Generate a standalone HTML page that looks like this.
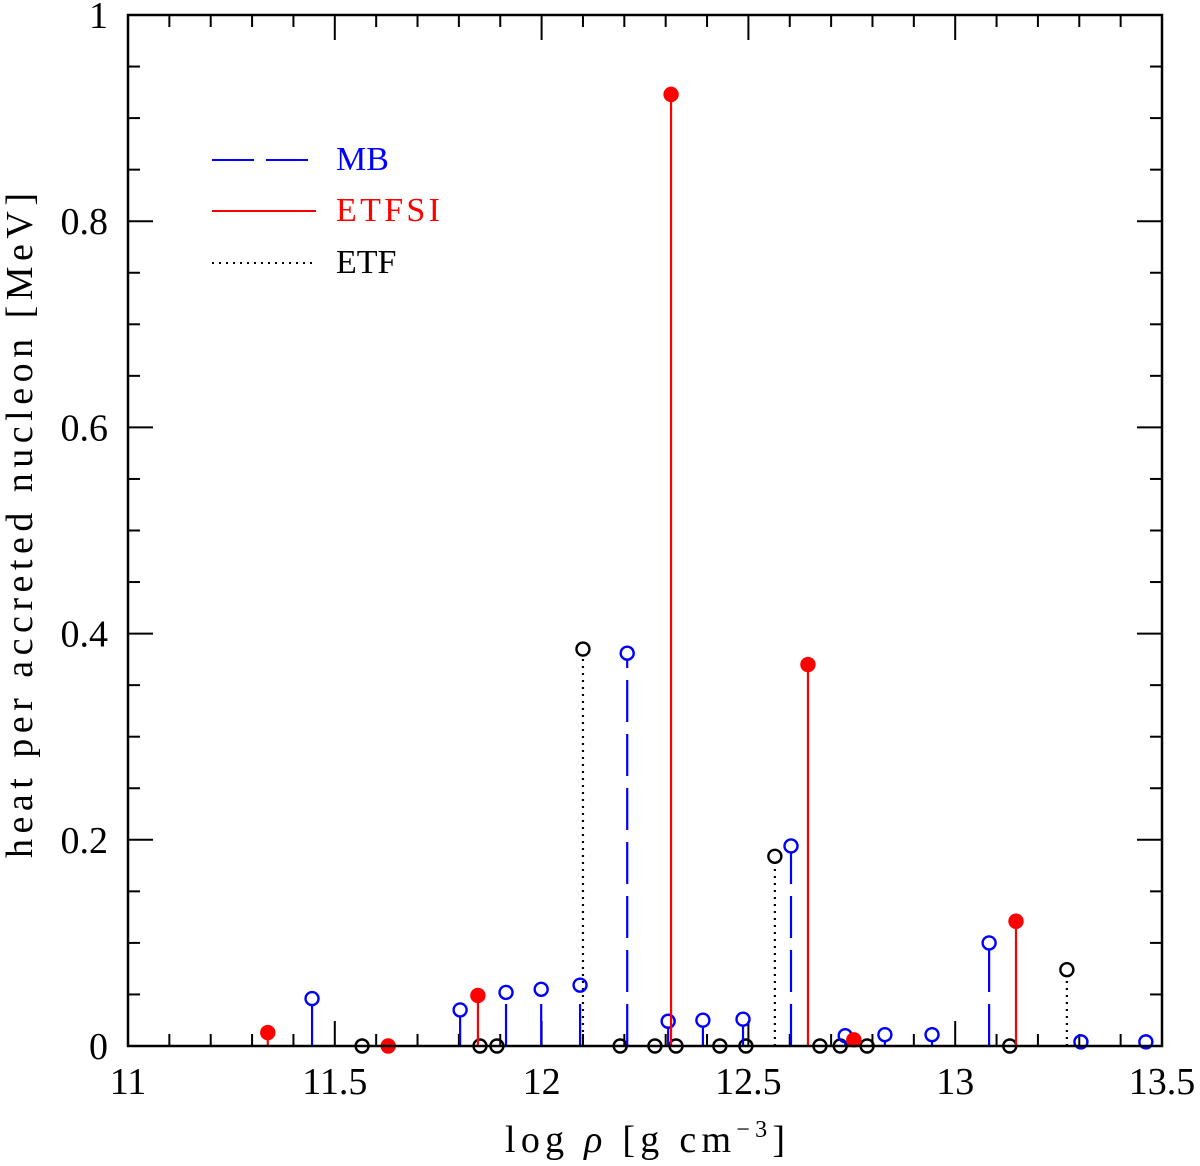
<!DOCTYPE html>
<html><head><meta charset="utf-8"><style>
html,body{margin:0;padding:0;background:#fff;}
svg text{font-family:"Liberation Serif",serif;}
</style></head><body>
<svg id="chart" width="1200" height="1161" xmlns="http://www.w3.org/2000/svg">
<g id="ticks"></g>
<g id="marks"></g>
<rect x="128" y="15" width="1034" height="1031" fill="none" stroke="#000" stroke-width="2.5"/>
<g id="labels"></g>
<text x="505" y="1152" font-size="38" textLength="280" lengthAdjust="spacing">log <tspan font-style="italic">ρ</tspan> [g cm<tspan font-size="24" dy="-15">−3</tspan><tspan dy="15">]</tspan></text>
<text transform="translate(32,858) rotate(-90)" font-size="38" textLength="665" lengthAdjust="spacing">heat per accreted nucleon [MeV]</text>
<g>
<line x1="212" y1="160" x2="308" y2="160" stroke="#0000ff" stroke-width="2" stroke-dasharray="42,12"/>
<text x="336" y="170" font-size="34" fill="#0000ff">MB</text>
<line x1="212" y1="211" x2="316" y2="211" stroke="#ff0000" stroke-width="2"/>
<text x="336" y="221" font-size="34" fill="#ff0000" textLength="104" lengthAdjust="spacing">ETFSI</text>
<line x1="212" y1="263" x2="316" y2="263" stroke="#000" stroke-width="2" stroke-dasharray="2,5"/>
<text x="336" y="273" font-size="34" fill="#000">ETF</text>
</g>
</svg>
<script>
const mbX=[11.445,11.803,11.914,11.999,12.093,12.207,12.306,12.390,12.487,12.603,12.734,12.830,12.944,13.082,13.304,13.461];
const mbY=[0.046,0.035,0.052,0.055,0.059,0.381,0.024,0.025,0.026,0.194,0.010,0.011,0.011,0.100,0.004,0.004];
const etfsiX=[11.338,11.629,11.846,12.313,12.644,12.755,13.147];
const etfsiY=[0.013,0.0,0.049,0.923,0.370,0.006,0.121];
const etfX=[11.566,11.851,11.892,12.100,12.190,12.274,12.325,12.431,12.494,12.564,12.673,12.722,12.787,13.132,13.270];
const etfY=[0.0,0.0,0.0,0.385,0.0,0.0,0.0,0.0,0.0,0.184,0.0,0.0,0.0,0.0,0.074];
const xTicks=[11,11.5,12,12.5,13,13.5];
const xTickLabels=["11","11.5","12","12.5","13","13.5"];
const yTicks=[0,0.2,0.4,0.6,0.8,1];
const yTickLabels=["0","0.2","0.4","0.6","0.8","1"];
const NS="http://www.w3.org/2000/svg";
const X0=128,X1=1162,Y0=1046,Y1=15;
const xs=v=>X0+(v-11)/2.5*(X1-X0);
const ys=v=>Y0-v*(Y0-Y1);
function mk(tag,attrs,parent){const e=document.createElementNS(NS,tag);for(const k in attrs)e.setAttribute(k,attrs[k]);parent.appendChild(e);return e;}
const tg=document.getElementById('ticks'),lg=document.getElementById('labels'),mg=document.getElementById('marks');
for(let i=0;i<=25;i++){const v=11+i*0.1;const L=(i%5===0)?25:12;const x=xs(v);
 const t1=mk('line',{x1:x,y1:Y0,x2:x,y2:Y0-L,stroke:'#000','stroke-width':2},tg);
 
 
 const t2=mk('line',{x1:x,y1:Y1,x2:x,y2:Y1+L,stroke:'#000','stroke-width':2},tg);
 
 }
for(let i=0;i<=20;i++){const v=i*0.05;const L=(i%4===0)?25:12;const y=ys(v);
 const t1=mk('line',{x1:X0,y1:y,x2:X0+L,y2:y,stroke:'#000','stroke-width':2},tg);
 
 
 const t2=mk('line',{x1:X1,y1:y,x2:X1-L,y2:y,stroke:'#000','stroke-width':2},tg);
 
 }
xTicks.forEach((v,i)=>{const t=mk('text',{x:xs(v),y:1094,'font-size':38,'text-anchor':'middle'},lg);t.textContent=xTickLabels[i];
 
 });
yTicks.forEach((v,i)=>{const t=mk('text',{x:108,y:ys(v)+13,'font-size':38,'text-anchor':'end'},lg);t.textContent=yTickLabels[i];
 
 });
function series(xa,ya,color,dash,filled,name){
 xa.forEach((xv,i)=>{const x=xs(xv),y=ys(ya[i]);
  if(ya[i]>0.003){const l=mk('line',{x1:x,y1:Y0,x2:x,y2:y+(filled?0:7),stroke:color,'stroke-width':2.2,'stroke-dasharray':dash},mg);
   
   }
  const c=mk('circle',{cx:x,cy:y,r:filled?6.5:6.5,fill:filled?color:'none',stroke:color,'stroke-width':2.4},mg);
  
  });
}
series(etfX,etfY,'#000','2,5',false,'etf');
series(mbX,mbY,'#0000ff','42,12',false,'mb');
series(etfsiX,etfsiY,'#ff0000','none',true,'etfsi');
</script>
</body></html>
